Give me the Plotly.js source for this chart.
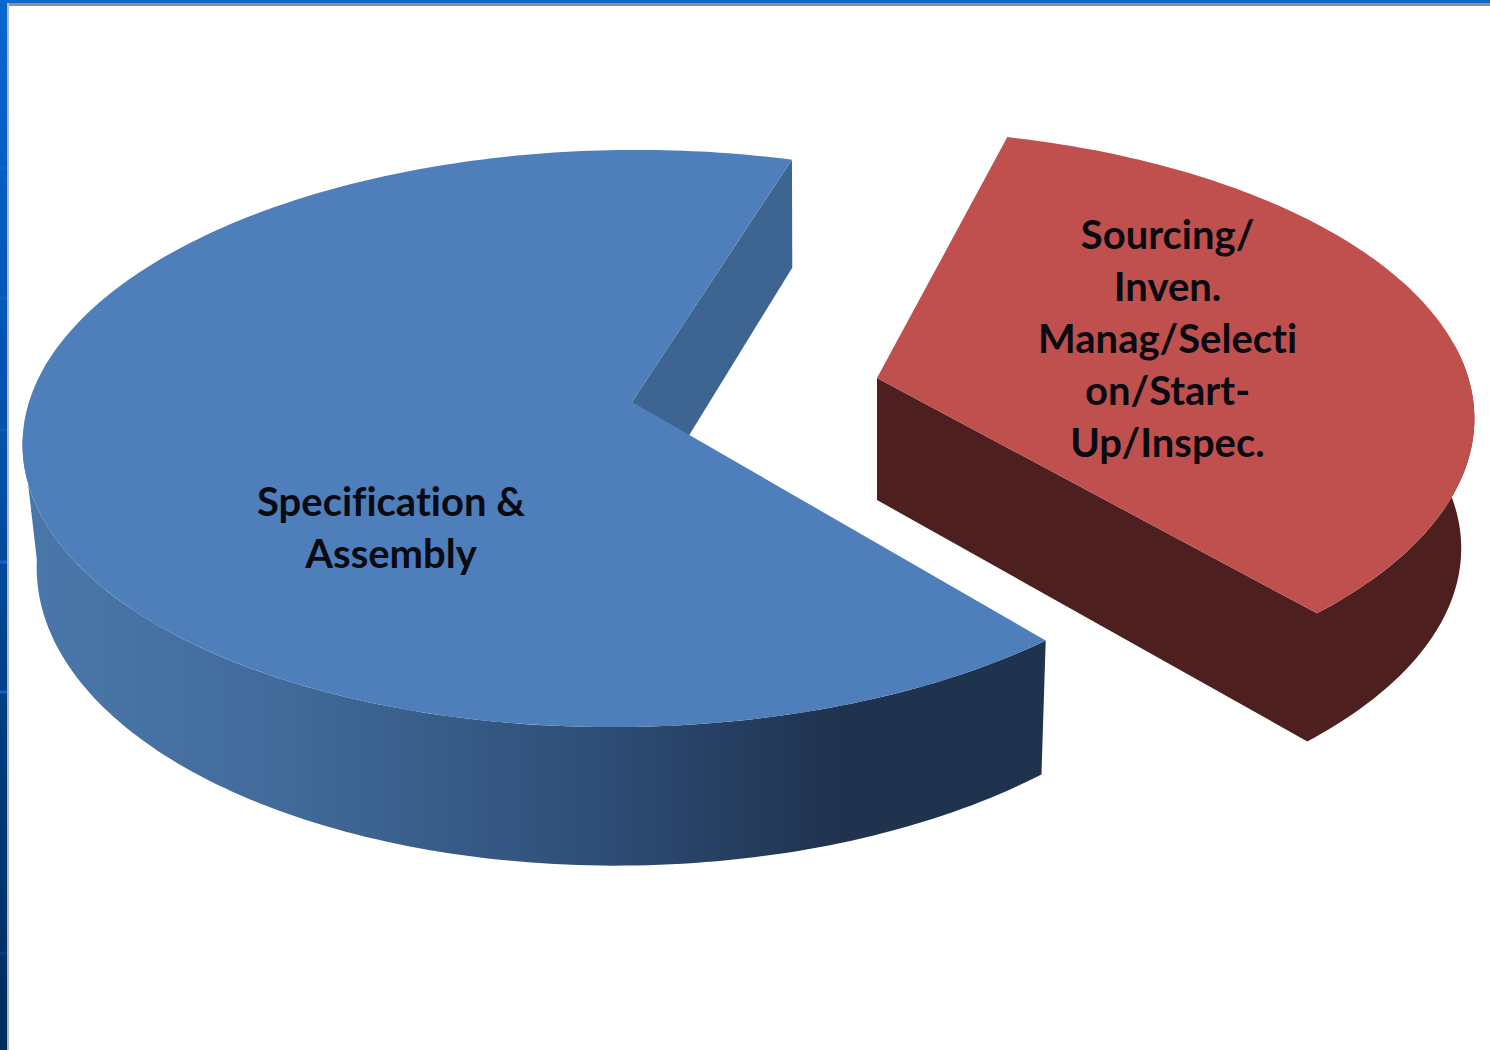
<!DOCTYPE html>
<html>
<head>
<meta charset="utf-8">
<script src="https://cdn.plot.ly/plotly-3.0.1.min.js"></script>
<style>
html,body{margin:0;padding:0;background:#fff;overflow:hidden}
text{font-variant-ligatures:none !important;font-feature-settings:"liga" 0,"clig" 0,"dlig" 0 !important}
</style>
</head>
<body>
<div id="chart" style="width:1490px;height:1050px"></div>
<script>
// Chart content
const categories = ["Specification &<br>Assembly", "Sourcing/<br>Inven.<br>Manag/Selecti<br>on/Start-<br>Up/Inspec."];
const shares = [66, 34];
const topColors = ["#4e7fba", "#bf504d"];
const frameNotches = [168, 298, 430, 562, 692, 953];

// Projection of each slice's disc: apex, rim centre, radii, shear, tilt and wall depth
const viewBlue = {ax: 632, ay: 402, cx: 626, cy: 402, rx: 597, ry: 284, shear: 12, tilt: 0.1265, depth: 121, lowTilt: 0.1265, apexDepth: 121, vanishX: 810, shrink: 0.018};
const viewRed  = {ax: 877, ay: 378, cx: 870, cy: 384, rx: 600, ry: 285, shear: 0,  tilt: 0.12,   depth: 130, lowTilt: -0.02,  apexDepth: 122, vanishX: 877, shrink: 0.022};
const blueUpperDeg = 73;   // where the first slice's notch opens
const redUpperDeg = 75.2;  // upper edge of the second slice

function project(view, u, v, low) {
  const w = 1 + view.tilt * v;
  let x = view.cx + (view.rx * u + view.shear * v) / w;
  let y = view.cy - view.ry * v / w;
  if (low) { x += (view.vanishX - x) * view.shrink; y += view.depth / (1 + view.lowTilt * v); }
  return [x, y];
}
function apex(view, low) {
  let x = view.ax, y = view.ay;
  if (low) { x += (view.vanishX - x) * view.shrink; y += view.apexDepth; }
  return [x, y];
}
function rim(view, deg, low) {
  const a = deg * Math.PI / 180;
  return project(view, Math.cos(a), Math.sin(a), low);
}
function rimPoints(view, deg0, deg1, low) {
  const n = Math.max(2, Math.ceil(Math.abs(deg1 - deg0)));
  const pts = [];
  for (let i = 0; i <= n; i++) pts.push(rim(view, deg0 + (deg1 - deg0) * i / n, low));
  return pts;
}
function polygon(pts, color, extra) {
  return Object.assign({
    x: pts.map(p => p[0]), y: pts.map(p => p[1]),
    type: "scatter", mode: "none", fill: "toself", fillcolor: color,
    hoverinfo: "skip", showlegend: false
  }, extra || {});
}

const total = shares[0] + shares[1];
const blueSweep = shares[0] / total * 360;
const redSweep = shares[1] / total * 360;
const blueEnd = blueUpperDeg + blueSweep;      // first slice runs counter-clockwise
const redEnd = redUpperDeg - redSweep;         // second slice runs clockwise

const traces = [];

// First slice: inner wall of the notch, outer wall, top face
traces.push(polygon([
  rim(viewBlue, blueUpperDeg, false), rim(viewBlue, blueUpperDeg, true),
  apex(viewBlue, true), apex(viewBlue, false)
], "#3e6491"));
traces.push(polygon(
  rimPoints(viewBlue, 187, blueEnd, false).concat(rimPoints(viewBlue, 187, blueEnd, true).reverse()),
  "#3e6491",
  {fillgradient: {type: "horizontal", colorscale: [
    [0, "#4a77aa"], [0.25, "#426b9b"], [0.55, "#2f4f78"], [0.8, "#1f324e"], [1, "#1f324e"]
  ]}}
));
traces.push(polygon([apex(viewBlue, false)].concat(rimPoints(viewBlue, blueUpperDeg, blueEnd, false)), topColors[0]));

// Second slice: one dark silhouette for both visible walls, then the top face
traces.push(polygon(
  [apex(viewRed, false), apex(viewRed, true)]
    .concat(rimPoints(viewRed, redEnd, 8, true))
    .concat(rimPoints(viewRed, 8, redEnd, false)),
  "#4d1f1e"
));
traces.push(polygon([apex(viewRed, false)].concat(rimPoints(viewRed, redUpperDeg, redEnd, false)), topColors[1]));

// Window frame down the left side
traces.push(polygon([[0, 0], [7, 0], [7, 1050], [0, 1050]], "#0a5fc4", {
  fillgradient: {type: "vertical", colorscale: [
    [0, "#002d5c"], [0.29, "#003c7c"], [0.52, "#004fa4"], [1, "#0866cf"]
  ]}
}));

const frameShapes = frameNotches.map((y, i) => ({
  type: "rect", xref: "x", yref: "y", x0: 0, x1: 7, y0: y - 1.5, y1: y + 1.5,
  fillcolor: i === 5 ? "#0a4a8c" : "#1268cc", opacity: i === 3 || i === 4 ? 0.9 : 0.55, line: {width: 0}
}));

const labelFont = {family: "Lato, Carlito, sans-serif", size: 40, color: "#0a0a12", weight: 700};
const layout = {
  width: 1490, height: 1050,
  margin: {l: 0, r: 0, t: 0, b: 0},
  paper_bgcolor: "#ffffff", plot_bgcolor: "#ffffff",
  showlegend: false,
  xaxis: {range: [0, 1490], visible: false, fixedrange: true},
  yaxis: {range: [1050, 0], visible: false, fixedrange: true},
  shapes: [
    {type: "rect", xref: "x", yref: "y", x0: 0, x1: 1490, y0: 0, y1: 3, fillcolor: "#0a68cf", line: {width: 0}},
    {type: "rect", xref: "x", yref: "y", x0: 7, x1: 1490, y0: 3, y1: 6, fillcolor: "#909090", line: {width: 0}},
    {type: "rect", xref: "x", yref: "y", x0: 7, x1: 9, y0: 3, y1: 1050, fillcolor: "#b5b8bc", line: {width: 0}}
  ].concat(frameShapes),
  annotations: [
    {text: categories[0], x: 391, y: 527, xref: "x", yref: "y", showarrow: false, align: "center", font: labelFont},
    {text: categories[1], x: 1167, y: 338, xref: "x", yref: "y", showarrow: false, align: "center", font: labelFont}
  ]
};
Plotly.newPlot("chart", traces, layout, {staticPlot: true, displayModeBar: false});
</script>
</body>
</html>
